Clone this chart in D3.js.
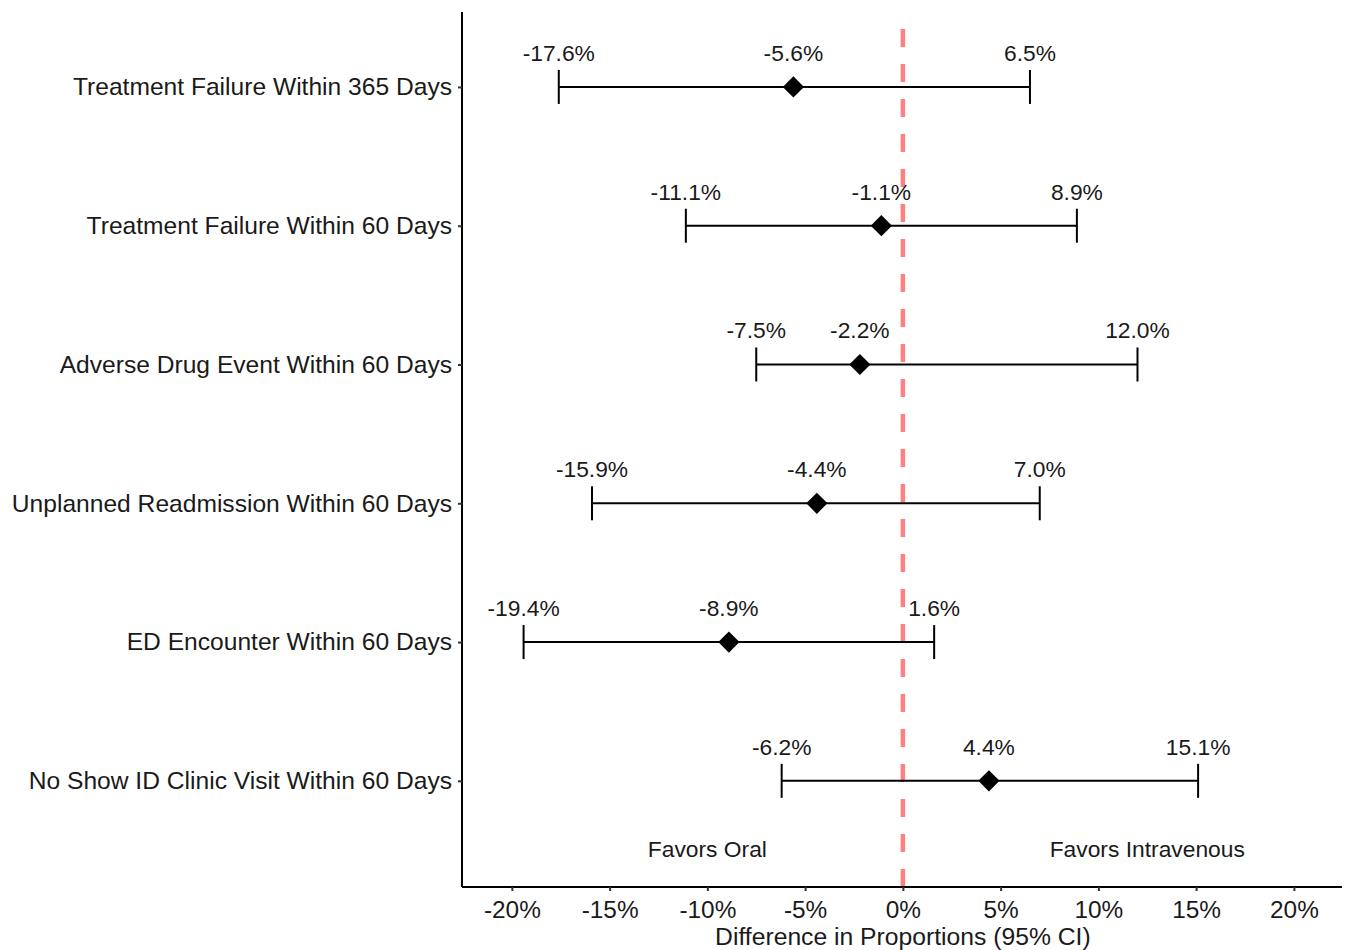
<!DOCTYPE html>
<html>
<head>
<meta charset="utf-8">
<script src="https://cdn.jsdelivr.net/npm/d3@7"></script>
<style>
  html, body { margin: 0; padding: 0; background: #fff; }
  svg { display: block; }
  text { font-family: "Liberation Sans", Arial, sans-serif; fill: #1a1a1a; }
</style>
</head>
<body>
<div id="chart"></div>
<script>
const outcomes = [
  "Treatment Failure Within 365 Days",
  "Treatment Failure Within 60 Days",
  "Adverse Drug Event Within 60 Days",
  "Unplanned Readmission Within 60 Days",
  "ED Encounter Within 60 Days",
  "No Show ID Clinic Visit Within 60 Days"
];
const estimate = [-5.6, -1.1, -2.2, -4.4, -8.9, 4.4];
const lower = [-17.6, -11.1, -7.5, -15.9, -19.4, -6.2];
const upper = [6.5, 8.9, 12.0, 7.0, 1.6, 15.1];
const xTicks = [-20, -15, -10, -5, 0, 5, 10, 15, 20];
const favorLabels = ["Favors Oral", "Favors Intravenous"];
const favorX = [-10, 12.5];

const W = 1346, H = 950;
const pLeft = 462, pRight = 1342, pTop = 12, pBottom = 887;

const svg = d3.select("#chart").append("svg").attr("width", W).attr("height", H);

const x = d3.scaleLinear().domain([-22.55, 22.46]).range([pLeft, pRight]);
const y = d3.scaleLinear().domain([0.235, 6.54]).range([pBottom, pTop]);
const rowPos = i => outcomes.length - i;

// reference line at 0
svg.append("line")
  .attr("x1", x(0)).attr("x2", x(0))
  .attr("y1", pBottom).attr("y2", pTop)
  .attr("stroke", "#FF8080").attr("stroke-width", 4.5)
  .attr("stroke-dasharray", "18,17");

// x axis
const xAxis = d3.axisBottom(x).tickValues(xTicks).tickFormat(d => d + "%").tickSize(4).tickPadding(10).tickSizeOuter(0);
const gx = svg.append("g").attr("transform", `translate(0,${pBottom})`).call(xAxis);
gx.select(".domain").attr("stroke", "#000").attr("stroke-width", 2).attr("d", `M${pLeft},0H${pRight}`);
gx.selectAll(".tick line").attr("stroke", "#333").attr("stroke-width", 2);
gx.selectAll(".tick text").attr("font-size", 24.4).attr("fill", "#1a1a1a")
  .attr("font-family", "Liberation Sans, Arial, sans-serif");

// y axis
const yAxis = d3.axisLeft(y).tickValues(outcomes.map((d, i) => rowPos(i)))
  .tickFormat(v => outcomes[outcomes.length - v]).tickSize(4).tickPadding(6).tickSizeOuter(0);
const gy = svg.append("g").attr("transform", `translate(${pLeft},0)`).call(yAxis);
gy.select(".domain").attr("stroke", "#000").attr("stroke-width", 2).attr("d", `M0,${pTop}V${pBottom}`);
gy.selectAll(".tick line").attr("stroke", "#333").attr("stroke-width", 2);
gy.selectAll(".tick text").attr("font-size", 24.6).attr("fill", "#1a1a1a")
  .attr("font-family", "Liberation Sans, Arial, sans-serif");

// axis title
svg.append("text").attr("x", x(0)).attr("y", 945).attr("text-anchor", "middle")
  .attr("font-size", 24.7).text("Difference in Proportions (95% CI)");

// error bars
const rows = outcomes.map((o, i) => ({ o, i, est: estimate[i], lo: lower[i], hi: upper[i] }));
const capH = 17;
const g = svg.append("g");
rows.forEach(r => {
  const yy = y(rowPos(r.i));
  g.append("line").attr("x1", x(r.lo)).attr("x2", x(r.hi)).attr("y1", yy).attr("y2", yy)
    .attr("stroke", "#000").attr("stroke-width", 2);
  [r.lo, r.hi].forEach(v => {
    g.append("line").attr("x1", x(v)).attr("x2", x(v)).attr("y1", yy - capH).attr("y2", yy + capH)
      .attr("stroke", "#000").attr("stroke-width", 2);
  });
});

// diamonds
const diamond = d3.symbol().type(d3.symbolSquare).size(225);
g.selectAll("path.pt").data(rows).join("path").attr("class", "pt")
  .attr("d", diamond)
  .attr("transform", d => `translate(${x(d.est)},${y(rowPos(d.i))}) rotate(45)`)
  .attr("fill", "#000");

// value labels
const fmt = v => v.toFixed(1) + "%";
rows.forEach(r => {
  const yy = y(rowPos(r.i)) - 26;
  [r.lo, r.est, r.hi].forEach(v => {
    g.append("text").attr("x", x(v)).attr("y", yy).attr("text-anchor", "middle")
      .attr("font-size", 22.8).text(fmt(v));
  });
});

// favors labels
favorLabels.forEach((t, i) => {
  svg.append("text").attr("x", x(favorX[i])).attr("y", 857).attr("text-anchor", "middle")
    .attr("font-size", 22.8).text(t);
});
</script>
</body>
</html>
